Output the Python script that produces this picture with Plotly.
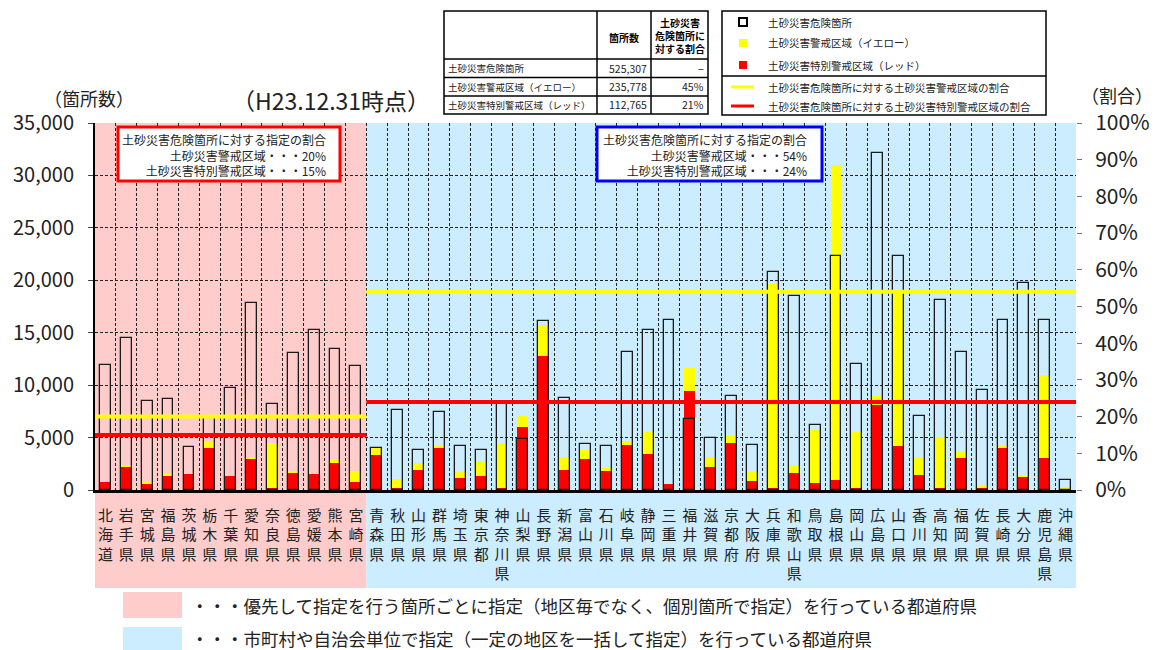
import plotly.graph_objects as go

# ---------------- data ----------------
prefs = ["北海道", "岩手県", "宮城県", "福島県", "茨城県", "栃木県", "千葉県", "愛知県", "奈良県",
         "徳島県", "愛媛県", "熊本県", "宮崎県",
         "青森県", "秋田県", "山形県", "群馬県", "埼玉県", "東京都", "神奈川県", "山梨県", "長野県",
         "新潟県", "富山県", "石川県", "岐阜県", "静岡県", "三重県", "福井県", "滋賀県", "京都府",
         "大阪府", "兵庫県", "和歌山県", "鳥取県", "島根県", "岡山県", "広島県", "山口県", "香川県",
         "高知県", "福岡県", "佐賀県", "長崎県", "大分県", "鹿児島県", "沖縄県"]

danger_sites = [11900, 14450, 8480, 8700, 4130, 6900, 9720, 17880, 8160, 13080, 15270, 13490, 11810,
                4030, 7650, 3810, 7460, 4220, 3810, 8160, 4830, 16070, 8800, 4410, 4220, 13150, 15270,
                16260, 6800, 4950, 8920, 4320, 20830, 18540, 6190, 22320, 12000, 32100, 22320, 7020,
                18130, 13150, 9530, 16260, 19720, 16260, 980]

yellow_zone = [790, 2380, 730, 1650, 1650, 4570, 1330, 3180, 4510, 1840, 1650, 2920, 1810,
               4030, 1050, 2600, 4290, 1680, 2700, 4350, 7080, 15720, 3110, 3810, 2060, 4670, 5490,
               600, 11620, 3180, 5180, 1680, 19620, 2250, 5720, 30960, 5490, 8920, 19000, 3020,
               5080, 3590, 480, 4290, 1300, 10990, 290]

red_zone = [730, 2160, 600, 1330, 1560, 4030, 1330, 2920, 100, 1650, 1560, 2570, 730,
            3330, 220, 1900, 3970, 1180, 1330, 190, 6030, 12760, 1870, 2920, 1780, 4290, 3430,
            540, 9460, 2160, 4480, 830, 100, 1650, 640, 950, 190, 8130, 4160, 1460,
            100, 3020, 100, 3970, 1240, 3080, 0]

group_sizes = [13, 34]
group_yellow_ratio = [0.20, 0.54]
group_red_ratio = [0.15, 0.24]

table_rows = ["土砂災害危険箇所", "土砂災害警戒区域（イエロー）", "土砂災害特別警戒区域（レッド）"]
table_counts = ["525,307", "235,778", "112,765"]
table_ratio = ["−", "45%", "21%"]

legend_labels = ["土砂災害危険箇所", "土砂災害警戒区域（イエロー）", "土砂災害特別警戒区域（レッド）",
                 "土砂災害危険箇所に対する土砂災害警戒区域の割合",
                 "土砂災害危険箇所に対する土砂災害特別警戒区域の割合"]

group_notes = ["・・・優先して指定を行う箇所ごとに指定（地区毎でなく、個別箇所で指定）を行っている都道府県",
               "・・・市町村や自治会単位で指定（一定の地区を一括して指定）を行っている都道府県"]

# ---------------- layout helpers ----------------
FONT = "Noto Sans CJK JP"
W, H = 1154, 650
L, R, T, B = 95, 1076, 123, 490
PINK = "#FFCCCC"
BLUE = "#CCECFF"
YEL = "#FFFF00"
RED = "#FF0000"


def px(x):
    return (x - L) / (R - L)


def py(y):
    return (B - y) / (B - T)


n = len(prefs)
xs = list(range(n))

fig = go.Figure()
fig.add_trace(go.Bar(x=xs, y=yellow_zone, width=0.52, marker=dict(color=YEL, line=dict(width=0)),
                     showlegend=False))
fig.add_trace(go.Bar(x=xs, y=red_zone, width=0.52, marker=dict(color=RED, line=dict(width=0)),
                     showlegend=False))
fig.add_trace(go.Bar(x=xs, y=danger_sites, width=0.52,
                     marker=dict(color="rgba(0,0,0,0)", line=dict(color="#1a1a1a", width=1.3)),
                     showlegend=False))

# ratio lines per group
start = -0.5
bounds = []
for size, yr, rr in zip(group_sizes, group_yellow_ratio, group_red_ratio):
    end = start + size
    bounds.append((start, end))
    fig.add_trace(go.Scatter(x=[start, end], y=[yr, yr], yaxis="y2", mode="lines",
                             line=dict(color=YEL, width=4), showlegend=False))
    fig.add_trace(go.Scatter(x=[start, end], y=[rr, rr], yaxis="y2", mode="lines",
                             line=dict(color=RED, width=4), showlegend=False))
    start = end

shapes = []
annotations = []
colors = [PINK, BLUE]
for (s, e), c in zip(bounds, colors):
    x0 = (s + 0.5) / n
    x1 = (e + 0.5) / n
    shapes.append(dict(type="rect", xref="paper", yref="paper", x0=x0, x1=x1, y0=0, y1=1,
                       fillcolor=c, line=dict(width=0), layer="below"))
    shapes.append(dict(type="rect", xref="paper", yref="paper", x0=x0, x1=x1, y0=py(588), y1=0,
                       fillcolor=c, line=dict(width=0), layer="below"))

# group note boxes inside plot
box_specs = [(118, 340, RED, 328), (597, 822, "#0000FF", 809)]
for i, (bx0, bx1, bc, tx) in enumerate(box_specs):
    shapes.append(dict(type="rect", xref="paper", yref="paper", x0=px(bx0), x1=px(bx1),
                       y0=py(181), y1=py(127), fillcolor="white", line=dict(color=bc, width=3)))
    txt = ("土砂災害危険箇所に対する指定の割合<br>"
           f"土砂災害警戒区域・・・{round(group_yellow_ratio[i]*100)}%<br>"
           f"土砂災害特別警戒区域・・・{round(group_red_ratio[i]*100)}%")
    annotations.append(dict(xref="paper", yref="paper", x=px(tx), y=py(154.5), xanchor="right",
                            yanchor="middle", align="right", showarrow=False, text=txt,
                            font=dict(family=FONT, size=12, color="#222")))

# bottom group legend
for i, (y0, y1, ty) in enumerate([(592, 618, 605.5), (627, 653, 638)]):
    shapes.append(dict(type="rect", xref="paper", yref="paper", x0=px(123), x1=px(182),
                       y0=py(y1), y1=py(y0), fillcolor=colors[i], line=dict(width=0)))
    annotations.append(dict(xref="paper", yref="paper", x=px(189), y=py(ty),
                            xanchor="left", yanchor="middle", showarrow=False, text=group_notes[i],
                            font=dict(family=FONT, size=17.5, color="#222")))

# ---------------- table ----------------
tx_cols = [444, 597, 651, 708]
ty_rows = [11, 59, 77.5, 96, 114]
shapes.append(dict(type="rect", xref="paper", yref="paper", x0=px(tx_cols[0]), x1=px(tx_cols[-1]),
                   y0=py(ty_rows[-1]), y1=py(ty_rows[0]), line=dict(color="black", width=1.5),
                   fillcolor="white"))
for xc in tx_cols[1:-1]:
    shapes.append(dict(type="line", xref="paper", yref="paper", x0=px(xc), x1=px(xc),
                       y0=py(ty_rows[-1]), y1=py(ty_rows[0]), line=dict(color="black", width=1.5)))
for yr in ty_rows[1:-1]:
    shapes.append(dict(type="line", xref="paper", yref="paper", x0=px(tx_cols[0]), x1=px(tx_cols[-1]),
                       y0=py(yr), y1=py(yr), line=dict(color="black", width=1.5)))
annotations.append(dict(xref="paper", yref="paper", x=px(624), y=py(37), xanchor="center",
                        yanchor="middle", showarrow=False, text="<b>箇所数</b>",
                        font=dict(family=FONT, size=10, color="black")))
annotations.append(dict(xref="paper", yref="paper", x=px(680), y=py(36), xanchor="center",
                        yanchor="middle", showarrow=False, text="<b>土砂災害<br>危険箇所に<br>対する割合</b>",
                        font=dict(family=FONT, size=10, color="black")))
for i in range(3):
    yc = py((ty_rows[i + 1] + ty_rows[i + 2]) / 2)
    annotations.append(dict(xref="paper", yref="paper", x=px(446), y=yc, xanchor="left",
                            yanchor="middle", showarrow=False, text=table_rows[i],
                            font=dict(family=FONT, size=9.5, color="#222")))
    annotations.append(dict(xref="paper", yref="paper", x=px(649), y=yc, xanchor="right",
                            yanchor="middle", showarrow=False, text=table_counts[i],
                            font=dict(family=FONT, size=10.5, color="#222")))
    annotations.append(dict(xref="paper", yref="paper", x=px(706), y=yc, xanchor="right",
                            yanchor="middle", showarrow=False, text=table_ratio[i],
                            font=dict(family=FONT, size=10.5, color="#222")))

# ---------------- legend (manual) ----------------
shapes.append(dict(type="rect", xref="paper", yref="paper", x0=px(722), x1=px(1046),
                   y0=py(115), y1=py(11), line=dict(color="black", width=1.5), fillcolor="white"))
shapes.append(dict(type="line", xref="paper", yref="paper", x0=px(722), x1=px(1046),
                   y0=py(76), y1=py(76), line=dict(color="black", width=1.5)))
leg_y = [22, 43, 65, 87, 106]
sq = 4
shapes.append(dict(type="rect", xref="paper", yref="paper", x0=px(743 - sq), x1=px(743 + sq),
                   y0=py(leg_y[0] + sq), y1=py(leg_y[0] - sq), line=dict(color="black", width=2),
                   fillcolor="white"))
shapes.append(dict(type="rect", xref="paper", yref="paper", x0=px(743 - sq), x1=px(743 + sq),
                   y0=py(leg_y[1] + sq), y1=py(leg_y[1] - sq), line=dict(width=0), fillcolor=YEL))
shapes.append(dict(type="rect", xref="paper", yref="paper", x0=px(743 - sq), x1=px(743 + sq),
                   y0=py(leg_y[2] + sq), y1=py(leg_y[2] - sq), line=dict(width=0), fillcolor=RED))
for yy, cc in [(leg_y[3], YEL), (leg_y[4], RED)]:
    shapes.append(dict(type="line", xref="paper", yref="paper", x0=px(731), x1=px(754),
                       y0=py(yy), y1=py(yy), line=dict(color=cc, width=3)))
for yy, lab in zip(leg_y, legend_labels):
    annotations.append(dict(xref="paper", yref="paper", x=px(766), y=py(yy), xanchor="left",
                            yanchor="middle", showarrow=False, text=lab,
                            font=dict(family=FONT, size=10.5, color="#222")))

# ---------------- titles ----------------
annotations.append(dict(xref="paper", yref="paper", x=px(89), y=py(98), xanchor="center",
                        yanchor="middle", showarrow=False, text="（箇所数）",
                        font=dict(family=FONT, size=18, color="#222")))
annotations.append(dict(xref="paper", yref="paper", x=px(331), y=py(100), xanchor="center",
                        yanchor="middle", showarrow=False, text="（H23.12.31時点）",
                        font=dict(family=FONT, size=23, color="#222")))
annotations.append(dict(xref="paper", yref="paper", x=px(1117), y=py(95), xanchor="center",
                        yanchor="middle", showarrow=False, text="（割合）",
                        font=dict(family=FONT, size=18, color="#222")))

ticktext = ["<br>".join(list(p)) for p in prefs]

fig.update_layout(
    width=W, height=H,
    margin=dict(l=L, r=W - R, t=T, b=H - B, pad=0, autoexpand=False),
    paper_bgcolor="white", plot_bgcolor="rgba(0,0,0,0)",
    barmode="overlay", bargap=0,
    font=dict(family=FONT, color="#222"),
    showlegend=False,
    xaxis=dict(
        range=[-0.5, n - 0.5], tickmode="array", tickvals=xs, ticktext=ticktext,
        ticks="", showgrid=False, zeroline=False,
        showline=True, linecolor="black", linewidth=2.5,
        tickfont=dict(family=FONT, size=15, color="#222"),
        ticklabelstandoff=10,
        minor=dict(tickvals=[i + 0.5 for i in range(n)], showgrid=True, gridcolor="#222",
                   griddash="3px,2px", gridwidth=1, ticks=""),
        fixedrange=True,
    ),
    yaxis=dict(
        range=[0, 35000], dtick=5000, tickformat=",d",
        showgrid=True, gridcolor="#222", griddash="3px,2px", gridwidth=1,
        zeroline=False, showline=True, linecolor="black", linewidth=2,
        ticks="outside", ticklen=5, tickcolor="#444",
        tickfont=dict(family=FONT, size=20, color="#222"),
        ticklabelstandoff=10,
    ),
    yaxis2=dict(
        range=[0, 1], dtick=0.1, tickformat=".0%", overlaying="y", side="right",
        showgrid=False, zeroline=False, showline=False,
        ticks="outside", ticklen=5, tickcolor="#777",
        tickfont=dict(family=FONT, size=21, color="#222"),
        ticklabelstandoff=9,
    ),
    shapes=shapes,
    annotations=annotations,
)

fig.write_html("out.html", config={"displayModeBar": False})

# remove default page margin so the figure sits at the window origin
with open("out.html", "r", encoding="utf-8") as f:
    html = f.read()
html = html.replace("<head>", "<head><style>html,body{margin:0;padding:0;overflow:hidden;}</style>", 1)
with open("out.html", "w", encoding="utf-8") as f:
    f.write(html)
